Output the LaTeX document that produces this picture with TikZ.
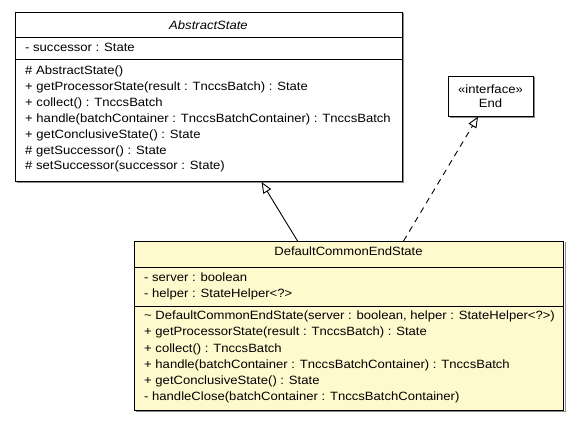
\documentclass[tikz,border=0pt]{standalone}
\usepackage{fontspec}
\setmainfont{Liberation Sans}[FakeStretch=1.09]
\usetikzlibrary{arrows.meta}
\definecolor{classfill}{RGB}{255,249,206}
\begin{document}
\begin{tikzpicture}[x=1pt,y=-1pt,
  font=\fontsize{12}{14}\selectfont,
  umlbox/.style={draw=black, line width=1.1pt, anchor=north west, inner sep=0pt},
  shadowline/.style={draw=black!45, line width=0.8pt},
  member/.style={anchor=west, inner sep=0pt},
  title/.style={anchor=center, inner sep=0pt},
  divider/.style={draw=black, line width=1pt},
  realize/.style={draw=black, line width=0.9pt, dashed, dash pattern=on 6pt off 5pt, -{Triangle[open, length=11pt, width=9pt, fill=white]}},
  inherit/.style={draw=black, line width=0.9pt, -{Triangle[open, length=11pt, width=9pt, fill=white]}}]
\useasboundingbox (0,0) rectangle (580,421);

% AbstractState
\draw[shadowline] (16.5,182) -- (403.5,182) -- (403.5,13);
\node[umlbox, fill=white, minimum width=387pt, minimum height=169pt] (abs) at (15,12) {};
\draw[divider] (15,37.5) -- (402,37.5);
\draw[divider] (15,59) -- (402,59);
\node[title] (absname) at (208.5,25) {\itshape AbstractState};
\node[member] (a1) at (25,47.7) {- successor : State};
\node[member] (m1) at (25,71.7) {\# AbstractState()};
\node[member] (m2) at (25,87.5) {+ getProcessorState(result : TnccsBatch) : State};
\node[member] (m3) at (25,103.4) {+ collect() : TnccsBatch};
\node[member] (m4) at (25,119.2) {+ handle(batchContainer : TnccsBatchContainer) : TnccsBatch};
\node[member] (m5) at (25,135.1) {+ getConclusiveState() : State};
\node[member] (m6) at (25,150.9) {\# getSuccessor() : State};
\node[member] (m7) at (25,166.7) {\# setSuccessor(successor : State)};

% End interface
\draw[shadowline] (449.5,117) -- (534.5,117) -- (534.5,77);
\node[umlbox, fill=white, minimum width=85pt, minimum height=39.5pt] (end) at (448,76) {};
\node[title] (endst) at (490.5,89.3) {«interface»};
\node[title] (endname) at (490.5,103.3) {End};

% DefaultCommonEndState
\draw[shadowline] (135.5,411.5) -- (565.5,411.5) -- (565.5,242);
\node[umlbox, fill=classfill, minimum width=429pt, minimum height=169pt] (dces) at (134,241) {};
\draw[divider] (134,267) -- (563,267);
\draw[divider] (134,306) -- (563,306);
\node[title] (dcesname) at (348.5,251.5) {DefaultCommonEndState};
\node[member] (d1) at (144,277.7) {- server : boolean};
\node[member] (d2) at (144,294.1) {- helper : StateHelper<?>};
\node[member] (n1) at (144,316.7) {\textasciitilde{} DefaultCommonEndState(server : boolean, helper : StateHelper<?>)};
\node[member] (n2) at (144,332.8) {+ getProcessorState(result : TnccsBatch) : State};
\node[member] (n3) at (144,348.9) {+ collect() : TnccsBatch};
\node[member] (n4) at (144,365.0) {+ handle(batchContainer : TnccsBatchContainer) : TnccsBatch};
\node[member] (n5) at (144,381.1) {+ getConclusiveState() : State};
\node[member] (n6) at (144,397.2) {- handleClose(batchContainer : TnccsBatchContainer)};

% connectors
\draw[inherit] ([xshift=-51.5pt]dces.north) -- ([xshift=52.5pt]abs.south);
\draw[realize] ([xshift=54.5pt]dces.north) -- ([xshift=-13pt]end.south);
\end{tikzpicture}
\end{document}
